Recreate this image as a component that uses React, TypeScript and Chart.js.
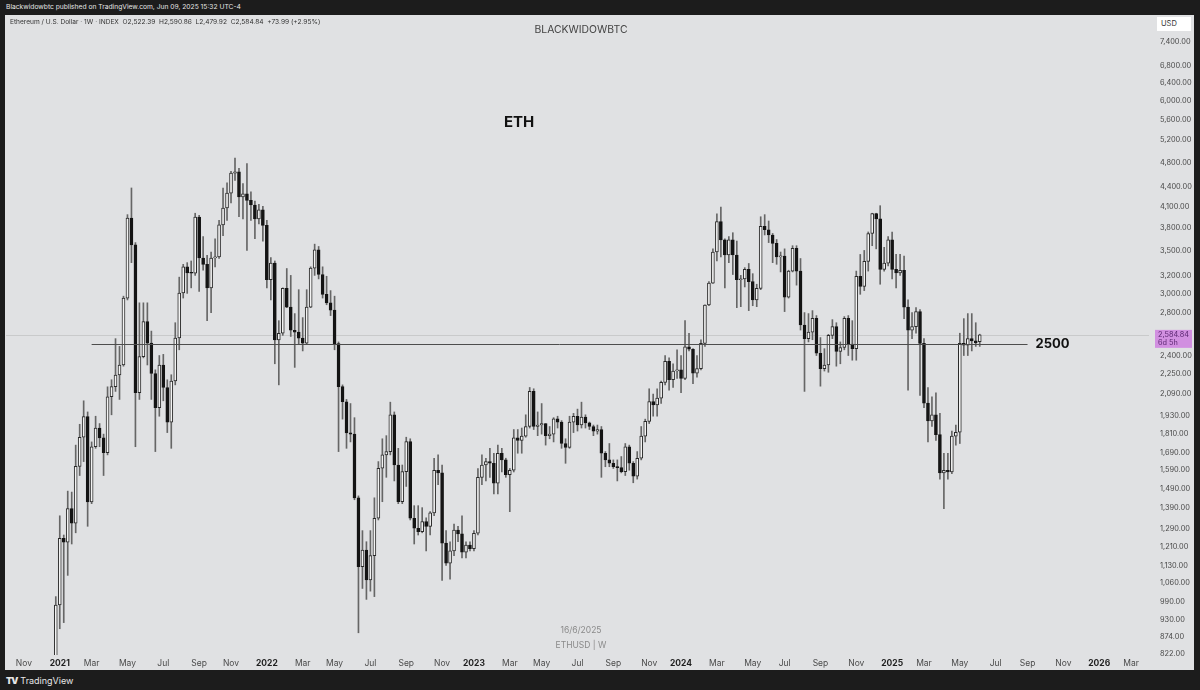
import { useEffect, useRef } from 'react'
import { Chart, registerables } from 'chart.js'

Chart.register(...registerables)

const FONT = 'Inter, "Noto Sans", "Liberation Sans", sans-serif'
const PANEL_BG = '#e0e1e3'

// weekly ETHUSD candles, first bar = week of 28 Dec 2020
const FIRST_WEEK = Date.UTC(2020, 11, 28)
const WEEKS_BEFORE = 12
const SLOTS = 287

const opens = [
  737, 980, 1245, 1228, 1386, 1315, 1612, 1790, 1928, 1419,
  1730, 1850, 1786, 1693, 2070, 2146, 2238, 2320, 2950, 3930,
  3570, 2100, 2390, 2710, 2510, 2250, 1990, 2320, 2140, 1890,
  2190, 2556, 3004, 3300, 3230, 3225, 3945, 3406, 3330, 3060,
  3406, 3420, 3836, 4076, 4300, 4620, 4640, 4240, 4290, 4190,
  4120, 3920, 4050, 3830, 3150, 3345, 2538, 2600, 3055, 2855,
  2628, 2610, 2555, 2510, 2855, 3285, 3508, 3210, 2990, 2900,
  2825, 2505, 2146, 2033, 1818, 1810, 1440, 1125, 1194, 1072,
  1170, 1338, 1601, 1680, 1700, 1940, 1620, 1420, 1582, 1762,
  1338, 1291, 1275, 1322, 1300, 1364, 1590, 1575, 1224, 1139,
  1190, 1283, 1265, 1185, 1215, 1200, 1268, 1550, 1620, 1640,
  1630, 1518, 1690, 1650, 1565, 1590, 1786, 1770, 1797, 1860,
  2110, 1860, 1870, 1880, 1800, 1810, 1912, 1890, 1750, 1725,
  1890, 1930, 1870, 1925, 1885, 1860, 1830, 1840, 1690, 1650,
  1630, 1610, 1605, 1582, 1730, 1630, 1556, 1660, 1797, 1895,
  2035, 2010, 2060, 2180, 2350, 2200, 2270, 2280, 2211, 2477,
  2455, 2252, 2290, 2507, 2877, 3112, 3480, 3881, 3635, 3443,
  3635, 3443, 3150, 3160, 3270, 3130, 2930, 3054, 3815, 3770,
  3700, 3590, 3420, 3430, 2960, 3250, 3526, 3250, 2678, 2550,
  2610, 2742, 2420, 2290, 2320, 2580, 2662, 2435, 2470, 2742,
  2500, 2460, 3190, 3075, 3365, 3720, 3995, 3920, 3270, 3345,
  3635, 3270, 3230, 3260, 2855, 2628, 2662, 2810, 2507, 2023,
  1897, 1940, 1807, 1574, 1590, 1580, 1797, 1822, 2507, 2490,
  2550, 2530, 2522.39,
]

const highs = [
  1010, 1350, 1260, 1475, 1470, 1740, 1875, 2040, 1960, 1760,
  1930, 1880, 1810, 2145, 2200, 2550, 2480, 2970, 3980, 4380,
  3600, 2900, 2900, 2900, 2620, 2280, 2400, 2410, 2200, 2240,
  2700, 3180, 3330, 3350, 3370, 4000, 3970, 3680, 3440, 3480,
  3650, 3900, 4380, 4460, 4650, 4878, 4700, 4450, 4780, 4320,
  4180, 4130, 4100, 3900, 3410, 3370, 2720, 3060, 3280, 3200,
  2790, 3040, 2750, 3040, 3300, 3580, 3550, 3300, 3190, 3030,
  2970, 2520, 2160, 2050, 2020, 1920, 1450, 1280, 1230, 1280,
  1440, 1640, 1780, 1800, 2030, 1960, 1720, 1620, 1790, 1780,
  1400, 1400, 1390, 1340, 1370, 1660, 1680, 1620, 1280, 1230,
  1310, 1300, 1350, 1230, 1230, 1280, 1600, 1680, 1660, 1720,
  1690, 1740, 1720, 1660, 1600, 1840, 1840, 1850, 1940, 2140,
  2130, 1960, 2020, 1880, 1860, 1920, 1930, 1900, 1780, 1930,
  1950, 1980, 2030, 1940, 1890, 1870, 1870, 1860, 1700, 1750,
  1650, 1650, 1670, 1750, 1740, 1640, 1700, 1860, 1910, 2130,
  2090, 2130, 2190, 2400, 2380, 2330, 2450, 2400, 2720, 2600,
  2460, 2400, 2540, 2880, 3130, 3520, 3990, 4090, 3650, 3680,
  3730, 3620, 3200, 3290, 3340, 3220, 3100, 3950, 3980, 3890,
  3720, 3640, 3480, 3520, 3260, 3560, 3560, 3400, 2800, 2790,
  2820, 2770, 2560, 2460, 2590, 2730, 2700, 2520, 2760, 2770,
  2720, 3250, 3450, 3500, 3740, 4000, 4000, 4110, 3540, 3680,
  3740, 3450, 3450, 3430, 2930, 2800, 2850, 2830, 2550, 2140,
  2070, 2100, 1950, 1690, 1690, 1830, 1870, 2600, 2740, 2790,
  2790, 2700, 2590.86,
]

const lows = [
  715, 900, 920, 1090, 1220, 1270, 1560, 1640, 1300, 1410,
  1720, 1730, 1560, 1680, 1940, 2110, 2050, 2310, 2930, 3350,
  1730, 2050, 2380, 2320, 2050, 1700, 1930, 2040, 1820, 1720,
  2160, 2450, 2950, 3000, 3060, 3200, 3020, 3260, 2720, 2800,
  3300, 3400, 3690, 3900, 4150, 4500, 3950, 3920, 3500, 3900,
  3650, 3850, 3620, 3060, 2930, 2330, 2160, 2580, 2850, 2570,
  2300, 2500, 2440, 2500, 2850, 3200, 3160, 2950, 2880, 2770,
  2450, 1700, 1910, 1720, 1760, 1430, 887, 1040, 1000, 1030,
  1010, 1330, 1420, 1550, 1680, 1530, 1410, 1410, 1500, 1330,
  1220, 1260, 1270, 1190, 1260, 1350, 1510, 1070, 1130, 1075,
  1170, 1230, 1160, 1160, 1190, 1190, 1260, 1510, 1530, 1550,
  1460, 1460, 1580, 1550, 1370, 1580, 1690, 1690, 1790, 1850,
  1840, 1800, 1810, 1740, 1780, 1760, 1850, 1720, 1630, 1720,
  1820, 1830, 1850, 1850, 1840, 1800, 1810, 1550, 1610, 1610,
  1600, 1530, 1575, 1560, 1590, 1520, 1540, 1650, 1760, 1880,
  1930, 1930, 2020, 2160, 2120, 2140, 2210, 2100, 2200, 2440,
  2170, 2220, 2280, 2480, 2870, 3110, 3370, 3420, 3060, 3350,
  3210, 2850, 2860, 3070, 2820, 2870, 2860, 3040, 3700, 3600,
  3350, 3330, 3240, 2810, 2950, 3240, 3090, 2630, 2110, 2520,
  2540, 2400, 2150, 2270, 2260, 2550, 2310, 2330, 2450, 2400,
  2360, 2360, 2990, 3030, 3250, 3560, 3520, 3100, 3250, 3310,
  3160, 3060, 3200, 2740, 2120, 2550, 2600, 2080, 1990, 1760,
  1860, 1770, 1540, 1385, 1540, 1570, 1740, 1750, 2400, 2400,
  2440, 2480, 2479.92,
]

const closes = [
  980, 1245, 1228, 1386, 1315, 1612, 1790, 1928, 1419, 1730,
  1850, 1786, 1693, 2070, 2146, 2238, 2320, 2950, 3930, 3570,
  2100, 2390, 2710, 2510, 2250, 1990, 2320, 2140, 1890, 2190,
  2556, 3004, 3300, 3230, 3225, 3945, 3406, 3330, 3060, 3406,
  3420, 3836, 4076, 4300, 4620, 4640, 4240, 4290, 4190, 4120,
  3920, 4050, 3830, 3150, 3345, 2538, 2600, 3055, 2855, 2628,
  2610, 2555, 2510, 2855, 3285, 3508, 3210, 2990, 2900, 2825,
  2505, 2146, 2033, 1818, 1810, 1440, 1125, 1194, 1072, 1170,
  1338, 1601, 1680, 1700, 1940, 1620, 1420, 1582, 1762, 1338,
  1291, 1275, 1322, 1300, 1364, 1590, 1575, 1224, 1139, 1190,
  1283, 1265, 1185, 1215, 1200, 1268, 1550, 1620, 1640, 1630,
  1518, 1690, 1650, 1565, 1590, 1786, 1770, 1797, 1860, 2110,
  1860, 1870, 1880, 1800, 1810, 1912, 1890, 1750, 1725, 1890,
  1930, 1870, 1925, 1885, 1860, 1830, 1840, 1690, 1650, 1630,
  1610, 1605, 1582, 1730, 1630, 1556, 1660, 1797, 1895, 2035,
  2010, 2060, 2180, 2350, 2200, 2270, 2280, 2211, 2477, 2455,
  2252, 2290, 2507, 2877, 3112, 3480, 3881, 3635, 3443, 3635,
  3443, 3150, 3160, 3270, 3130, 2930, 3054, 3815, 3770, 3700,
  3590, 3420, 3430, 2960, 3250, 3526, 3250, 2678, 2550, 2610,
  2742, 2420, 2290, 2320, 2580, 2662, 2435, 2470, 2742, 2500,
  2460, 3190, 3075, 3365, 3720, 3995, 3920, 3270, 3345, 3635,
  3270, 3230, 3260, 2855, 2628, 2662, 2810, 2507, 2023, 1897,
  1940, 1807, 1574, 1590, 1580, 1797, 1822, 2507, 2490, 2550,
  2530, 2511, 2584.84,
]

const yTicks = [
  7400, 6800, 6400, 6000, 5600, 5200, 4800, 4400, 4100, 3800, 3500, 3200, 3000, 2800,
  2400, 2250, 2090, 1930, 1810, 1690, 1590, 1490, 1390, 1290, 1210, 1130, 1060, 990,
  930, 874, 822,
]

const monthNames = ['Jan', 'Feb', 'Mar', 'Apr', 'May', 'Jun', 'Jul', 'Aug', 'Sep', 'Oct', 'Nov', 'Dec']

const LEVEL = 2500
const LEVEL_FROM = 9 // week index where the drawn line starts
const LEVEL_TO = 244
const LAST = closes[closes.length - 1]

const weeks = Array.from({ length: SLOTS }, (_, k) => new Date(FIRST_WEEK + (k - WEEKS_BEFORE) * 7 * 86400000))
const tickLabels = weeks.map((d, k) => {
  const m = d.getUTCMonth()
  if (k > 0 && weeks[k - 1].getUTCMonth() === m) return ''
  if (m % 2) return ''
  return m === 0 ? String(d.getUTCFullYear()) : monthNames[m]
})
const isYear = (i: number) => /^\d{4}$/.test(tickLabels[i] || '')

const candle = (k: number) => {
  const i = k - WEEKS_BEFORE
  return i >= 0 && i < closes.length ? i : -1
}

const overlay = {
  id: 'overlay',
  beforeDatasetsDraw(chart: any) {
    const { ctx, chartArea, scales } = chart
    const y = Math.round(scales.y.getPixelForValue(LAST)) + 0.5
    ctx.save()
    ctx.strokeStyle = 'rgba(0,0,0,0.1)'
    ctx.lineWidth = 1
    ctx.beginPath()
    ctx.moveTo(chartArea.left, y)
    ctx.lineTo(chartArea.right, y)
    ctx.stroke()
    ctx.restore()
  },
  afterDatasetsDraw(chart: any) {
    const { ctx, scales } = chart
    const y = Math.round(scales.y.getPixelForValue(LEVEL)) + 0.5
    const x0 = scales.x.getPixelForValue(LEVEL_FROM + WEEKS_BEFORE)
    const x1 = scales.x.getPixelForValue(LEVEL_TO + WEEKS_BEFORE)
    ctx.save()
    ctx.strokeStyle = '#4d4d4d'
    ctx.lineWidth = 1
    ctx.beginPath()
    ctx.moveTo(x0, y)
    ctx.lineTo(x1, y)
    ctx.stroke()
    ctx.fillStyle = '#111'
    ctx.font = `bold 13px ${FONT}`
    ctx.textBaseline = 'middle'
    ctx.fillText(String(LEVEL), x1 + 8, y)
    ctx.restore()
  },
  afterDraw(chart: any) {
    const { ctx, chartArea, scales, width, height } = chart
    ctx.save()
    // the time axis strip hides the lower half of the bottom price label
    ctx.fillStyle = PANEL_BG
    ctx.fillRect(chartArea.right, chartArea.bottom + 1, width - chartArea.right, height - chartArea.bottom)
    ctx.restore()
    const xs = scales.x
    ctx.save()
    ctx.textAlign = 'center'
    ctx.textBaseline = 'middle'
    tickLabels.forEach((t, i) => {
      if (!t || xs.getPixelForValue(i) < chartArea.right) return
      ctx.font = `${isYear(i) ? 'bold ' : ''}8.5px ${FONT}`
      ctx.fillStyle = isYear(i) ? '#1f1f1f' : '#4a4a4a'
      ctx.fillText(t, xs.getPixelForValue(i), chartArea.bottom + 8)
    })
    ctx.restore()

    const y = scales.y.getPixelForValue(LAST)
    const x = chartArea.right + 6
    ctx.save()
    ctx.fillStyle = '#d18fe0'
    ctx.fillRect(x, y - 5, 37, 18)
    ctx.fillStyle = '#5a2670'
    ctx.font = `7.3px ${FONT}`
    ctx.textBaseline = 'middle'
    ctx.fillText(LAST.toLocaleString('en-US', { minimumFractionDigits: 2 }), x + 3, y - 0.5)
    ctx.fillText('6d 5h', x + 3, y + 8)
    ctx.restore()
  },
}

function CandleChart() {
  const canvasRef = useRef<HTMLCanvasElement | null>(null)
  const chartRef = useRef<Chart | null>(null)

  useEffect(() => {
    if (!canvasRef.current) return
    const ctx = canvasRef.current.getContext('2d')!

    const bodies = weeks.map((_, k) => {
      const i = candle(k)
      return i < 0 ? null : [opens[i], closes[i]]
    })
    const wicks = weeks.map((_, k) => {
      const i = candle(k)
      return i < 0 ? null : [lows[i], highs[i]]
    })
    const fills = weeks.map((_, k) => {
      const i = candle(k)
      return i >= 0 && closes[i] < opens[i] ? '#141414' : '#f3f3f3'
    })
    const edges = weeks.map((_, k) => {
      const i = candle(k)
      return i >= 0 && closes[i] < opens[i] ? '#141414' : '#2a2a2a'
    })

    chartRef.current = new Chart(ctx, {
      type: 'bar',
      data: {
        labels: weeks.map((d) => d.toISOString().slice(0, 10)),
        datasets: [
          {
            label: 'body',
            data: bodies as any,
            backgroundColor: fills,
            borderColor: edges,
            borderWidth: 1,
            borderSkipped: false,
            barThickness: 3,
            minBarLength: 1,
            grouped: false,
            order: 0,
          },
          {
            label: 'wick',
            data: wicks as any,
            backgroundColor: '#666666',
            borderWidth: 0,
            barThickness: 1,
            grouped: false,
            order: 1,
          },
        ],
      },
      options: {
        responsive: true,
        maintainAspectRatio: false,
        animation: false,
        layout: { padding: { left: 1, right: 0, top: 0, bottom: 0 } },
        plugins: {
          legend: { display: false },
          tooltip: { enabled: false },
        },
        scales: {
          x: {
            type: 'category',
            offset: true,
            grid: { display: false, drawTicks: false },
            border: { display: false },
            afterFit: (s: any) => {
              s.height = 15
              s.paddingLeft = 0
              s.paddingRight = 0
            },
            ticks: {
              autoSkip: false,
              maxRotation: 0,
              minRotation: 0,
              padding: 3,
              callback: (_v: any, i: number) => tickLabels[i],
              color: (c: any) => (isYear(c.index) ? '#1f1f1f' : '#4a4a4a'),
              font: (c: any) => ({ family: FONT, size: 8.5, weight: isYear(c.index) ? 'bold' : 'normal' }),
            },
          },
          y: {
            type: 'logarithmic',
            position: 'right',
            min: 819,
            max: 8150,
            grid: { display: false, drawTicks: false },
            border: { display: false },
            afterBuildTicks: (s: any) => {
              s.ticks = yTicks.map((v) => ({ value: v }))
            },
            afterFit: (s: any) => {
              s.width = 45
              s.paddingTop = 0
              s.paddingBottom = 0
            },
            ticks: {
              padding: 11,
              color: '#484848',
              font: { family: FONT, size: 7.4 },
              callback: (v: any) =>
                Number(v).toLocaleString('en-US', { minimumFractionDigits: 2, maximumFractionDigits: 2 }),
            },
          },
        },
      },
      plugins: [overlay],
    })

    return () => chartRef.current?.destroy()
  }, [])

  return <canvas ref={canvasRef} />
}

export default function App() {
  return (
    <div
      style={{
        position: 'absolute',
        left: 0,
        top: 0,
        width: 1200,
        height: 690,
        background: '#1c1c1c',
        fontFamily: FONT,
        overflow: 'hidden',
      }}
    >
      <div style={{ position: 'absolute', left: 6, top: 1, fontSize: 6.7, color: '#e6e6e6', lineHeight: '12px', whiteSpace: 'nowrap' }}>
        Blackwidowbtc published on TradingView.com, Jun 09, 2025 15:32 UTC-4
      </div>
      <div style={{ position: 'absolute', left: 5, top: 15, width: 1189, height: 655, background: PANEL_BG }}>
        <div style={{ position: 'absolute', left: 0, top: 0, width: 1189, height: 655 }}>
          <CandleChart />
        </div>
        <div
          style={{
            position: 'absolute',
            left: 5,
            top: 2,
            fontSize: 6.6,
            color: '#333',
            whiteSpace: 'nowrap',
            lineHeight: '10px',
          }}
        >
          Ethereum / U.S. Dollar · 1W · INDEX&nbsp; O2,522.39&nbsp; H2,590.86&nbsp; L2,479.92&nbsp; C2,584.84&nbsp;
          +73.99 (+2.95%)
        </div>
        <div style={{ position: 'absolute', left: 476, width: 200, top: 8, textAlign: 'center', fontSize: 10.4, color: '#444' }}>
          BLACKWIDOWBTC
        </div>
        <div style={{ position: 'absolute', left: 499, top: 97, fontSize: 15, fontWeight: 700, color: '#111' }}>ETH</div>
        <div
          style={{
            position: 'absolute',
            left: 1152,
            top: 2,
            width: 34,
            height: 14,
            background: '#fff',
            fontSize: 7.5,
            color: '#333',
            lineHeight: '14px',
            paddingLeft: 4,
            boxSizing: 'border-box',
          }}
        >
          USD
        </div>
        <div
          style={{
            position: 'absolute',
            left: 476,
            width: 200,
            top: 608,
            textAlign: 'center',
            fontSize: 8.5,
            color: '#8a8a8a',
            lineHeight: '15px',
          }}
        >
          16/6/2025
          <br />
          ETHUSD | W
        </div>
      </div>
      <div style={{ position: 'absolute', left: 6, top: 675, fontSize: 9, color: '#e6e6e6', display: 'flex', gap: 3 }}>
        <span style={{ fontWeight: 900, letterSpacing: -1 }}>TV</span>
        <span>TradingView</span>
      </div>
    </div>
  )
}
